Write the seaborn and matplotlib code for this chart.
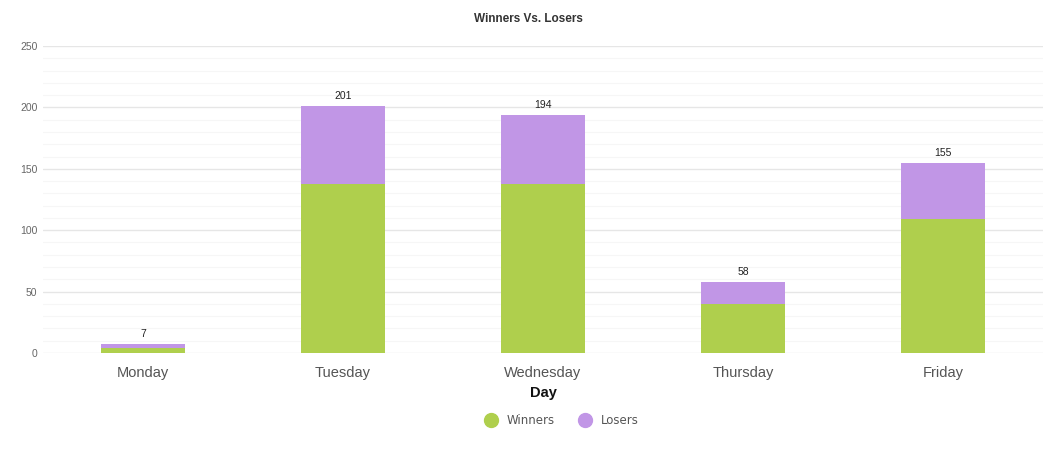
import matplotlib
matplotlib.use('Agg')
import matplotlib.pyplot as plt
from matplotlib.lines import Line2D
from matplotlib.ticker import MultipleLocator
import seaborn as sns
import pandas as pd

days = ['Monday', 'Tuesday', 'Wednesday', 'Thursday', 'Friday']
winners = [4, 138, 138, 40, 109]
losers = [3, 63, 56, 18, 46]
totals = [w + l for w, l in zip(winners, losers)]

green = '#AFCF4D'
purple = '#C196E6'

sns.set_style('white')
plt.rcParams['font.family'] = ['Liberation Sans', 'DejaVu Sans']

df = pd.DataFrame({'Day': days, 'Winners': winners, 'Total': totals})

fig = plt.figure(figsize=(10.56, 4.51), dpi=100)
ax = fig.add_axes([43 / 1056, 1 - 353 / 451, (1043 - 43) / 1056, (353 - 46) / 451])

sns.barplot(data=df, x='Day', y='Total', color=purple, width=0.42, ax=ax,
            saturation=1, zorder=3, linewidth=0)
sns.barplot(data=df, x='Day', y='Winners', color=green, width=0.42, ax=ax,
            saturation=1, zorder=4, linewidth=0)

for i, t in enumerate(totals):
    ax.text(i, t + 4, str(t), ha='center', va='bottom', fontsize=7.5, color='#222222')

ax.set_xlim(-0.5, 4.5)
ax.set_ylim(0, 250)
ax.yaxis.set_major_locator(MultipleLocator(50))
ax.yaxis.set_minor_locator(MultipleLocator(10))
ax.grid(axis='y', which='major', color='#e6e6e6', lw=1, zorder=0)
ax.grid(axis='y', which='minor', color='#f6f6f6', lw=0.8, zorder=0)
ax.set_axisbelow(True)
for s in ax.spines.values():
    s.set_visible(False)
ax.tick_params(axis='both', which='both', length=0)
ax.tick_params(axis='y', labelsize=7.5, labelcolor='#666666', pad=4)
ax.tick_params(axis='x', labelsize=10.5, labelcolor='#555555', pad=9)
ax.set_ylabel('')
ax.set_xlabel('Day', fontsize=10.5, fontweight='bold', color='#111111', labelpad=5)

fig.text(0.5, 1 - 19 / 451, 'Winners Vs. Losers', ha='center', va='center',
         fontsize=8.5, fontweight='bold', color='#333333')

handles = [Line2D([], [], marker='o', ls='', markersize=10, color=green),
           Line2D([], [], marker='o', ls='', markersize=10, color=purple)]
fig.legend(handles, ['Winners', 'Losers'], loc='center', ncol=2,
           bbox_to_anchor=(559 / 1056, 1 - 421 / 451), frameon=False,
           prop={'family': 'DejaVu Sans', 'size': 8.5}, labelcolor='#555555',
           handletextpad=0.3, columnspacing=1.6)

fig.savefig('out.png', dpi=100)
